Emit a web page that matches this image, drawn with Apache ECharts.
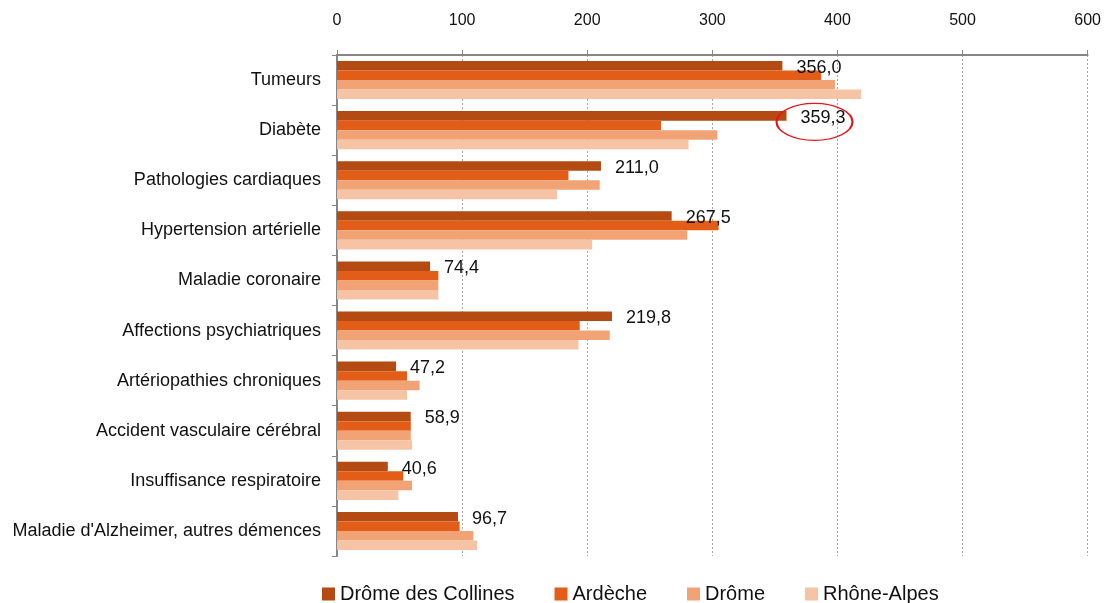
<!DOCTYPE html>
<html>
<head>
<meta charset="utf-8">
<script src="https://cdn.jsdelivr.net/npm/echarts@6/dist/echarts.min.js"></script>
<style>
  html, body { margin: 0; padding: 0; background: #fff; }
  #chart { width: 1104px; height: 603px; }
</style>
</head>
<body>
<div id="chart"></div>
<script>
// Pathologies: taux par territoire
const categories = [
  'Tumeurs',
  'Diabète',
  'Pathologies cardiaques',
  'Hypertension artérielle',
  'Maladie coronaire',
  'Affections psychiatriques',
  'Artériopathies chroniques',
  'Accident vasculaire cérébral',
  'Insuffisance respiratoire',
  "Maladie d'Alzheimer, autres démences"
];
const seriesNames = ['Drôme des Collines', 'Ardèche', 'Drôme', 'Rhône-Alpes'];
const dromeCollines = [356.0, 359.3, 211.0, 267.5, 74.4, 219.8, 47.2, 58.9, 40.6, 96.7];
const ardeche      = [387, 259, 185, 305, 81, 194, 56, 59, 53, 98];
const drome        = [398, 304, 210, 280, 81, 218, 66, 59, 60, 109];
const rhoneAlpes   = [419, 281, 176, 204, 81, 193, 56, 60, 49, 112];
const xTicks = [0, 100, 200, 300, 400, 500, 600];
const highlighted = 'Diabète';

const colors = ['#B34B12', '#E25D17', '#F2A375', '#F6C3A4'];
const FONT = '"Liberation Sans", Arial, sans-serif';

const chart = echarts.init(document.getElementById('chart'));

const fmt = v => v.toFixed(1).replace('.', ',');

const seriesData = [dromeCollines, ardeche, drome, rhoneAlpes];
const series = seriesData.map((data, i) => {
  const s = {
    name: seriesNames[i],
    type: 'bar',
    data: data,
    barGap: '0%',
    barCategoryGap: '24%',
    itemStyle: { color: colors[i] },
    emphasis: { disabled: true },
    animation: false
  };
  if (i === 0) {
    s.label = {
      show: true,
      position: 'right',
      distance: 14,
      offset: [0, 2],
      formatter: p => fmt(p.value),
      color: '#111',
      fontFamily: FONT,
      fontSize: 18
    };
    // red ring around the highlighted value
    const idx = categories.indexOf(highlighted);
    s.markPoint = {
      silent: true,
      symbol: 'circle',
      symbolSize: [76, 37],
      symbolOffset: [28, 6],
      itemStyle: { color: 'rgba(0,0,0,0)', borderColor: '#E8141B', borderWidth: 1.5 },
      label: { show: false },
      data: [{ coord: [data[idx], categories[idx]] }]
    };
  }
  return s;
});

chart.setOption({
  backgroundColor: '#ffffff',
  animation: false,
  color: colors,
  grid: { left: 337, right: 16, top: 55, bottom: 47 },
  legend: {
    bottom: -6,
    left: 317,
    icon: 'rect',
    itemWidth: 13,
    itemHeight: 13,
    itemGap: 40,
    textStyle: { fontFamily: FONT, fontSize: 20, color: '#111' },
    data: seriesNames
  },
  xAxis: {
    type: 'value',
    position: 'top',
    min: xTicks[0],
    max: xTicks[xTicks.length - 1],
    interval: xTicks[1] - xTicks[0],
    axisLine: { show: true, lineStyle: { color: '#868686', width: 2 } },
    axisTick: { show: true, length: 5, lineStyle: { color: '#868686' } },
    axisLabel: { fontFamily: FONT, fontSize: 16, color: '#111', margin: 26 },
    splitLine: { show: true, lineStyle: { color: '#a6a6a6', type: [2, 2], width: 1 } }
  },
  yAxis: {
    type: 'category',
    inverse: true,
    data: categories,
    axisLine: { show: true, lineStyle: { color: '#868686', width: 2 } },
    axisTick: { show: true, length: 5, lineStyle: { color: '#868686' } },
    axisLabel: { fontFamily: FONT, fontSize: 18, color: '#111', margin: 16 }
  },
  series: series
});
</script>
</body>
</html>
